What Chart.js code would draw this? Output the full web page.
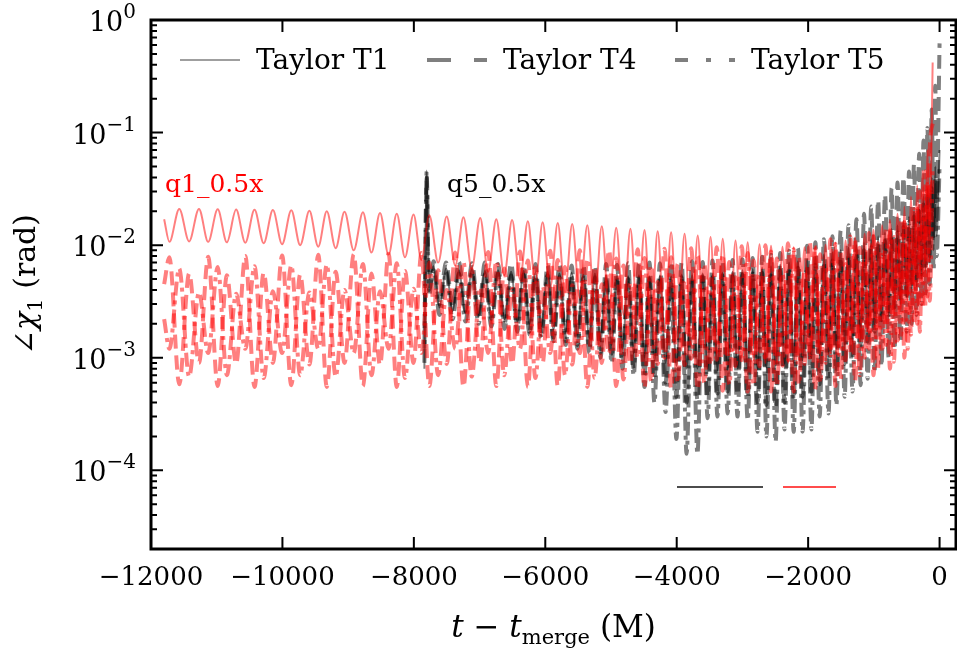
<!DOCTYPE html>
<html>
<head>
<meta charset="utf-8">
<script src="https://cdn.jsdelivr.net/npm/chart.js@4.4.1/dist/chart.umd.min.js"></script>
<style>
  html, body { margin: 0; padding: 0; background: #fff; }
  canvas { display: block; }
</style>
</head>
<body>
<canvas id="chart" width="957" height="648"></canvas>
<script>
// Оси и подписи
const xTicks = [-12000, -10000, -8000, -6000, -4000, -2000, 0];
const xTickLabels = ['\u221212000', '\u221210000', '\u22128000', '\u22126000', '\u22124000', '\u22122000', '0'];
const yTicks = [1, 0.1, 0.01, 0.001, 0.0001];
const yTickExps = ['0', '\u22121', '\u22122', '\u22123', '\u22124'];
const legendLabels = ['Taylor T1', 'Taylor T4', 'Taylor T5'];
const runLabels = ['q1_0.5x', 'q5_0.5x'];

// q1_0.5x (красные): моменты экстремумов
const tQ1 = [
  -11800, -11720, -11570, -11420, -11270, -11130, -10985, -10845, -10705, -10565,
  -10425, -10285, -10145, -10005, -9865, -9730, -9590, -9455, -9325, -9190,
  -9055, -8915, -8775, -8645, -8515, -8385, -8260, -8135, -8005, -7885,
  -7765, -7630, -7500, -7370, -7245, -7120, -6990, -6870, -6745, -6625,
  -6505, -6385, -6265, -6150, -6040, -5925, -5810, -5700, -5590, -5475,
  -5360, -5250, -5140, -5030, -4920, -4810, -4705, -4595, -4490, -4390,
  -4290, -4185, -4085, -3985, -3880, -3780, -3680, -3580, -3485, -3390,
  -3300, -3200, -3105, -3010, -2920, -2830, -2740, -2650, -2565, -2475,
  -2390, -2305, -2220, -2140, -2055, -1975, -1895, -1815, -1735, -1660,
  -1585, -1505, -1430, -1360, -1285, -1215, -1140, -1075, -1005, -940,
  -875, -815, -755, -695, -640, -585, -535, -485, -435, -390,
  -340, -300, -260, -220, -185, -150, -105
];
const q1T1 = [
  0.017, 0.0107, 0.021, 0.0108, 0.021, 0.0107, 0.0208, 0.0106, 0.0207, 0.0105,
  0.0206, 0.0104, 0.0205, 0.0102, 0.0204, 0.010, 0.0202, 0.0097, 0.020, 0.0094,
  0.0198, 0.0090, 0.0196, 0.0086, 0.0193, 0.0082, 0.019, 0.0078, 0.0187, 0.0074,
  0.0184, 0.0070, 0.018, 0.0066, 0.0177, 0.0062, 0.0174, 0.0058, 0.017, 0.0054,
  0.0167, 0.0050, 0.0163, 0.0046, 0.016, 0.0042, 0.0157, 0.0038, 0.0154, 0.0034,
  0.015, 0.0030, 0.0147, 0.0027, 0.0143, 0.0024, 0.014, 0.0021, 0.0136, 0.0019,
  0.0133, 0.0017, 0.013, 0.0015, 0.0126, 0.0013, 0.0122, 0.0012, 0.0118, 0.0011,
  0.0114, 0.00105, 0.011, 0.0010, 0.0106, 0.00095, 0.0102, 0.0009, 0.0099, 0.0009,
  0.0097, 0.0009, 0.0096, 0.00095, 0.0096, 0.001, 0.0098, 0.00105, 0.0101, 0.0011,
  0.0105, 0.0012, 0.011, 0.0013, 0.0117, 0.0014, 0.0126, 0.0016, 0.0137, 0.0018,
  0.015, 0.002, 0.0168, 0.0023, 0.019, 0.0027, 0.022, 0.0032, 0.027, 0.004,
  0.034, 0.0052, 0.046, 0.0075, 0.07, 0.012, 0.42
];
const q1T4 = [
  0.0045, 0.0078, 0.00058, 0.0056, 0.0009, 0.0079, 0.00056, 0.0054, 0.00088, 0.0080,
  0.00055, 0.0057, 0.0009, 0.0081, 0.00057, 0.0055, 0.00087, 0.0082, 0.00055, 0.0058,
  0.0009, 0.0083, 0.00056, 0.0056, 0.00086, 0.0084, 0.00055, 0.0059, 0.0009, 0.0085,
  0.00056, 0.0060, 0.00088, 0.0086, 0.00055, 0.0061, 0.0009, 0.0087, 0.00056, 0.0062,
  0.00088, 0.0088, 0.00055, 0.0063, 0.0009, 0.0089, 0.00056, 0.0064, 0.00087, 0.009,
  0.00055, 0.0065, 0.0009, 0.0091, 0.00056, 0.0066, 0.00088, 0.0092, 0.00054, 0.0067,
  0.00088, 0.0093, 0.00053, 0.0068, 0.00086, 0.0094, 0.00052, 0.0069, 0.00085, 0.0096,
  0.00051, 0.0071, 0.00084, 0.0098, 0.0005, 0.0073, 0.00084, 0.010, 0.0005, 0.0076,
  0.00085, 0.0104, 0.0005, 0.0079, 0.00088, 0.0108, 0.00052, 0.0083, 0.0009, 0.0113,
  0.00056, 0.0088, 0.00095, 0.012, 0.00062, 0.0095, 0.001, 0.0128, 0.0007, 0.0104,
  0.0011, 0.014, 0.0008, 0.0118, 0.0013, 0.0165, 0.001, 0.0145, 0.0016, 0.021,
  0.002, 0.03, 0.0028, 0.045, 0.0035, 0.07, 0.12
];
const q1T5 = [
  0.0022, 0.0012, 0.0062, 0.00068, 0.0038, 0.0011, 0.0064, 0.0007, 0.0037, 0.0012,
  0.0065, 0.00066, 0.0039, 0.0011, 0.0066, 0.0007, 0.0038, 0.0012, 0.0067, 0.00068,
  0.004, 0.0011, 0.0068, 0.0007, 0.0039, 0.0012, 0.0069, 0.00066, 0.0041, 0.0011,
  0.007, 0.0007, 0.004, 0.0012, 0.0071, 0.00068, 0.0042, 0.0011, 0.0072, 0.0007,
  0.0041, 0.0012, 0.0073, 0.00066, 0.0043, 0.0011, 0.0074, 0.0007, 0.0044, 0.0011,
  0.0075, 0.00066, 0.0045, 0.0011, 0.0076, 0.00064, 0.0046, 0.001, 0.0077, 0.00062,
  0.0047, 0.001, 0.0078, 0.0006, 0.0048, 0.00098, 0.008, 0.0006, 0.005, 0.00096,
  0.0082, 0.00058, 0.0052, 0.00095, 0.0085, 0.00057, 0.0054, 0.00095, 0.0088, 0.00056,
  0.0056, 0.00095, 0.0092, 0.00058, 0.0059, 0.001, 0.0097, 0.0006, 0.0063, 0.00105,
  0.0103, 0.00064, 0.0068, 0.0011, 0.011, 0.0007, 0.0074, 0.0012, 0.012, 0.00078,
  0.0082, 0.0013, 0.0135, 0.00092, 0.0095, 0.0016, 0.016, 0.0012, 0.012, 0.002,
  0.021, 0.0017, 0.017, 0.0028, 0.035, 0.0032, 0.05
];

// q5_0.5x (чёрные): моменты экстремумов
const tQ5 = [
  -7840, -7805, -7770, -7700, -7610, -7510, -7410, -7315, -7215, -7115,
  -7015, -6920, -6820, -6720, -6620, -6520, -6425, -6330, -6240, -6150,
  -6060, -5965, -5875, -5785, -5690, -5600, -5510, -5420, -5330, -5245,
  -5160, -5075, -4990, -4910, -4825, -4740, -4655, -4575, -4490, -4415,
  -4340, -4255, -4170, -4085, -4005, -3925, -3850, -3765, -3685, -3605,
  -3530, -3455, -3380, -3305, -3225, -3150, -3075, -3000, -2920, -2845,
  -2770, -2700, -2635, -2565, -2495, -2425, -2360, -2290, -2220, -2155,
  -2085, -2015, -1950, -1890, -1825, -1760, -1690, -1630, -1570, -1505,
  -1445, -1385, -1325, -1265, -1200, -1150, -1095, -1040, -990, -935,
  -885, -830, -775, -730, -685, -640, -595, -550, -500, -465,
  -425, -390, -350, -310, -275, -245, -215, -185, -150, -120,
  -90, -65, -45, 0
];
const q5T1 = [
  0.0008, 0.046, 0.005, 0.0065, 0.0028, 0.0062, 0.0026, 0.006, 0.0025, 0.0061,
  0.0024, 0.0059, 0.0023, 0.006, 0.0022, 0.0058, 0.0021, 0.0059, 0.002, 0.0057,
  0.0019, 0.0058, 0.0018, 0.0056, 0.0017, 0.0057, 0.0016, 0.0055, 0.0015, 0.0056,
  0.0014, 0.0054, 0.0013, 0.0055, 0.0012, 0.0053, 0.0011, 0.0054, 0.001, 0.0053,
  0.00095, 0.0054, 0.0009, 0.0053, 0.00085, 0.0055, 0.0008, 0.0054, 0.0008, 0.0056,
  0.0008, 0.0055, 0.00078, 0.0057, 0.00078, 0.0058, 0.0008, 0.006, 0.0008, 0.0061,
  0.0008, 0.0063, 0.00082, 0.0065, 0.00085, 0.0067, 0.00088, 0.007, 0.0009, 0.0072,
  0.00095, 0.0075, 0.001, 0.0078, 0.00105, 0.0082, 0.0011, 0.0086, 0.0012, 0.009,
  0.0013, 0.0095, 0.0014, 0.01, 0.0015, 0.0106, 0.0017, 0.0113, 0.0019, 0.012,
  0.0021, 0.013, 0.0024, 0.014, 0.0027, 0.015, 0.003, 0.0165, 0.0034, 0.018,
  0.0038, 0.02, 0.0043, 0.023, 0.005, 0.027, 0.006, 0.032, 0.007, 0.04,
  0.009, 0.05, 0.012, 0.07
];
const q5T4 = [
  0.0012, 0.04, 0.0035, 0.0072, 0.003, 0.007, 0.0028, 0.0071, 0.0026, 0.0069,
  0.0024, 0.007, 0.0022, 0.0068, 0.002, 0.0069, 0.0019, 0.0067, 0.0017, 0.0068,
  0.0016, 0.0066, 0.0015, 0.0067, 0.0014, 0.0066, 0.0013, 0.0067, 0.0012, 0.0066,
  0.0011, 0.0068, 0.001, 0.0067, 0.0009, 0.0069, 0.0008, 0.0068, 0.0007, 0.007,
  0.00065, 0.0069, 0.0006, 0.0071, 0.00045, 0.007, 0.0004, 0.0072, 0.00042, 0.0071,
  0.00045, 0.0073, 0.00048, 0.0072, 0.0005, 0.0074, 0.00047, 0.0075, 0.00044, 0.0077,
  0.0004, 0.0079, 0.00038, 0.0082, 0.00036, 0.0085, 0.0004, 0.0089, 0.00042, 0.0094,
  0.00045, 0.0099, 0.0005, 0.0106, 0.00058, 0.0113, 0.00065, 0.012, 0.00075, 0.0135,
  0.00088, 0.015, 0.001, 0.017, 0.0012, 0.019, 0.0014, 0.022, 0.0017, 0.025,
  0.002, 0.028, 0.0024, 0.032, 0.0028, 0.036, 0.0032, 0.04, 0.0036, 0.045,
  0.0042, 0.052, 0.0048, 0.065, 0.0055, 0.085, 0.0065, 0.11, 0.008, 0.16,
  0.012, 0.26, 0.025, 0.62
];
const q5T5 = [
  0.0009, 0.045, 0.004, 0.006, 0.0024, 0.0058, 0.0022, 0.0056, 0.0021, 0.0057,
  0.002, 0.0055, 0.0019, 0.0056, 0.0018, 0.0054, 0.0017, 0.0055, 0.0016, 0.0053,
  0.0015, 0.0054, 0.0014, 0.0052, 0.0013, 0.0053, 0.0012, 0.0051, 0.0011, 0.0052,
  0.001, 0.005, 0.0009, 0.0051, 0.0008, 0.005, 0.0007, 0.0051, 0.00055, 0.005,
  0.0004, 0.0051, 0.00033, 0.005, 0.00019, 0.0052, 0.00014, 0.0051, 0.00014, 0.0053,
  0.00029, 0.0052, 0.0003, 0.0054, 0.00032, 0.0053, 0.0003, 0.0055, 0.00028, 0.0056,
  0.00022, 0.0057, 0.0002, 0.0058, 0.00018, 0.006, 0.00023, 0.0061, 0.00022, 0.0063,
  0.00022, 0.0065, 0.00023, 0.0067, 0.0003, 0.007, 0.00032, 0.0073, 0.00038, 0.0076,
  0.00045, 0.008, 0.0005, 0.0085, 0.00057, 0.009, 0.00065, 0.0096, 0.00075, 0.0103,
  0.00085, 0.011, 0.001, 0.012, 0.0012, 0.013, 0.0014, 0.0145, 0.0017, 0.016,
  0.002, 0.018, 0.0024, 0.02, 0.003, 0.023, 0.0035, 0.027, 0.0045, 0.032,
  0.006, 0.04, 0.008, 0.05
];

const RED = 'rgba(255,0,0,0.5)';
const GRAY = 'rgba(0,0,0,0.5)';
// штрихи на графике и в легенде
const DASH_T4 = [14, 7];
const DASH_T5 = [14, 5, 4, 5];
const LEG_DASH_T4 = [24, 23];
const LEG_DASH_T5 = [13, 18, 5, 18];
const SERIF = '"DejaVu Serif"';

function points(t, v) {
  return t.map((x, i) => ({ x: x, y: v[i] }));
}

function series(t, v, color, width, dash) {
  return {
    data: points(t, v),
    borderColor: color,
    borderWidth: width,
    borderDash: dash,
    borderCapStyle: 'butt',
    borderJoinStyle: 'round',
    pointRadius: 0,
    fill: false,
    cubicInterpolationMode: 'monotone',
    clip: 0
  };
}

// Рамка, засечки, подписи и легенды рисуем сами (стиль matplotlib)
const decorPlugin = {
  id: 'decor',
  afterDatasetsDraw(chart) {
    const ctx = chart.ctx;
    const a = chart.chartArea;
    const xs = chart.scales.x;
    const ys = chart.scales.y;
    ctx.save();

    // засечки
    ctx.strokeStyle = '#000';
    ctx.lineWidth = 2;
    ctx.beginPath();
    xTicks.forEach(v => {
      const px = xs.getPixelForValue(v);
      ctx.moveTo(px, a.bottom); ctx.lineTo(px, a.bottom - 12);
      ctx.moveTo(px, a.top); ctx.lineTo(px, a.top + 12);
    });
    for (let k = -5; k <= 0; k++) {
      for (let m = 1; m <= 9; m++) {
        const v = m * Math.pow(10, k);
        if (v < ys.min * 0.999 || v > ys.max * 1.001) continue;
        const py = ys.getPixelForValue(v);
        const len = m === 1 ? 12 : 6;
        ctx.moveTo(a.left, py); ctx.lineTo(a.left + len, py);
        ctx.moveTo(a.right, py); ctx.lineTo(a.right - len, py);
      }
    }
    ctx.stroke();

    // рамка
    ctx.lineWidth = 3;
    ctx.strokeRect(a.left, a.top, a.right - a.left, a.bottom - a.top);

    // подписи оси X
    ctx.fillStyle = '#000';
    ctx.textAlign = 'center';
    ctx.textBaseline = 'alphabetic';
    ctx.font = '26px ' + SERIF;
    xTicks.forEach((v, i) => {
      ctx.fillText(xTickLabels[i], xs.getPixelForValue(v), 585);
    });

    // подписи оси Y: 10^k
    ctx.textAlign = 'left';
    yTicks.forEach((v, i) => {
      const py = ys.getPixelForValue(v);
      ctx.font = '20px ' + SERIF;
      const wS = ctx.measureText(yTickExps[i]).width;
      ctx.font = '27px ' + SERIF;
      const wB = ctx.measureText('10').width;
      const right = 136;
      ctx.fillText('10', right - wS - wB, py + 11);
      ctx.font = '20px ' + SERIF;
      ctx.fillText(yTickExps[i], right - wS, py - 2);
    });

    // составной текст (основной шрифт + индексы)
    function drawParts(parts, x0, y0) {
      let x = x0;
      parts.forEach(p => {
        ctx.font = p[1];
        ctx.fillText(p[0], x, y0 + (p[2] || 0));
        x += ctx.measureText(p[0]).width;
      });
    }
    function partsWidth(parts) {
      let w = 0;
      parts.forEach(p => { ctx.font = p[1]; w += ctx.measureText(p[0]).width; });
      return w;
    }

    const xTitle = [
      ['t', 'italic 31px ' + SERIF],
      [' \u2212 ', '31px ' + SERIF],
      ['t', 'italic 31px ' + SERIF],
      ['merge', '21px ' + SERIF, 7],
      [' (M)', '31px ' + SERIF]
    ];
    const cx = (a.left + a.right) / 2;
    drawParts(xTitle, cx - partsWidth(xTitle) / 2, 637);

    const yTitle = [
      ['\u2220', '30px ' + SERIF],
      ['\u03C7', 'italic 30px ' + SERIF],
      ['1', '21px ' + SERIF, 7],
      [' (rad)', '30px ' + SERIF]
    ];
    ctx.save();
    ctx.translate(35, (a.top + a.bottom) / 2);
    ctx.rotate(-Math.PI / 2);
    drawParts(yTitle, -partsWidth(yTitle) / 2, 0);
    ctx.restore();

    // подписи запусков
    ctx.font = '25px ' + SERIF;
    ctx.fillStyle = '#ff0000';
    ctx.fillText(runLabels[0], 165, 192);
    ctx.fillStyle = '#000';
    ctx.fillText(runLabels[1], 447, 192);

    // легенда стилей
    const legX = [180, 427, 675];
    const legW = [1.5, 4, 4];
    const legDash = [[], LEG_DASH_T4, LEG_DASH_T5];
    ctx.strokeStyle = GRAY;
    ctx.lineCap = 'butt';
    legX.forEach((x, i) => {
      ctx.lineWidth = legW[i];
      ctx.setLineDash(legDash[i]);
      ctx.beginPath();
      ctx.moveTo(x, 60); ctx.lineTo(x + 60, 60);
      ctx.stroke();
    });
    ctx.setLineDash([]);
    ctx.fillStyle = '#000';
    ctx.font = '28px ' + SERIF;
    legX.forEach((x, i) => {
      ctx.fillText(legendLabels[i], x + 76, 69);
    });

    // легенда цветов (без подписей)
    ctx.lineWidth = 2;
    ctx.strokeStyle = 'rgba(0,0,0,0.7)';
    ctx.beginPath(); ctx.moveTo(677, 487); ctx.lineTo(763, 487); ctx.stroke();
    ctx.strokeStyle = 'rgba(255,0,0,0.7)';
    ctx.beginPath(); ctx.moveTo(783, 487); ctx.lineTo(836, 487); ctx.stroke();

    ctx.restore();
  }
};

// первый набор рисуется поверх остальных
new Chart(document.getElementById('chart'), {
  type: 'line',
  data: {
    datasets: [
      series(tQ1, q1T1, RED, 2, []),
      series(tQ1, q1T4, RED, 4, DASH_T4),
      series(tQ1, q1T5, RED, 4, DASH_T5),
      series(tQ5, q5T1, GRAY, 2, []),
      series(tQ5, q5T4, GRAY, 4, DASH_T4),
      series(tQ5, q5T5, GRAY, 4, DASH_T5)
    ]
  },
  options: {
    responsive: false,
    animation: false,
    events: [],
    layout: { padding: { left: 151, right: 1, top: 20, bottom: 99 } },
    plugins: { legend: { display: false }, tooltip: { enabled: false } },
    scales: {
      x: { type: 'linear', min: -12000, max: 250, display: false },
      y: { type: 'logarithmic', min: 2e-5, max: 1, display: false }
    }
  },
  plugins: [decorPlugin]
});
</script>
</body>
</html>
